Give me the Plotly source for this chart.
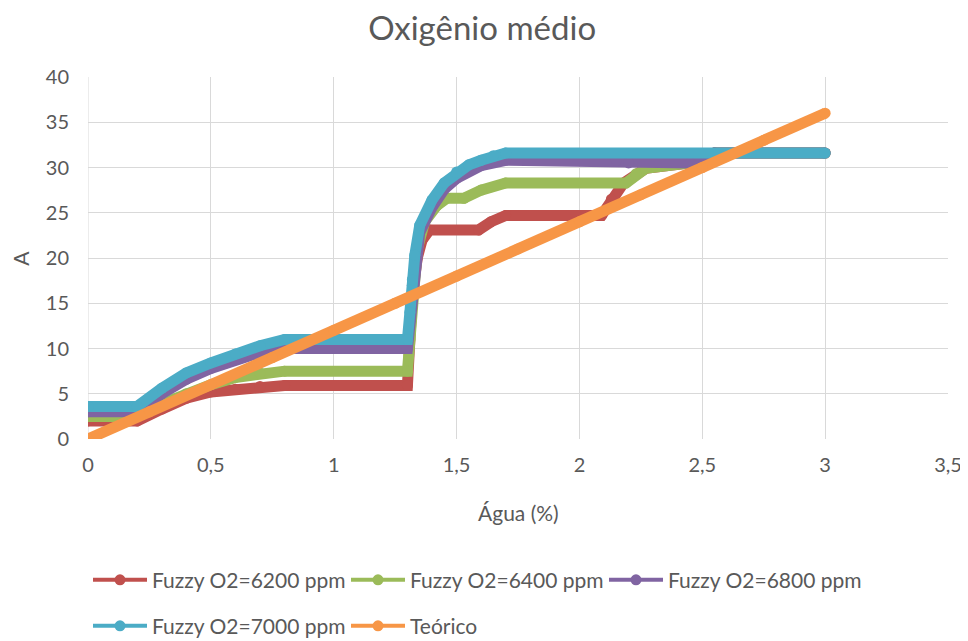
import plotly.graph_objects as go

# ---- data ----
x_6200 = [0, 0.2, 0.3, 0.4, 0.5, 0.6, 0.7, 0.8, 1.3, 1.31, 1.32, 1.34, 1.36, 1.39, 1.59, 1.64, 1.70, 2.09, 2.13, 2.18, 2.27, 2.45, 2.55, 3.0]
y_6200 = [2.0, 2.0, 3.3, 4.5, 5.2, 5.5, 5.8, 5.9, 5.9, 12, 16, 20, 22, 23.1, 23.1, 24, 24.7, 24.7, 26.5, 28.3, 29.9, 30.5, 31.6, 31.6]

x_6400 = [0, 0.2, 0.3, 0.4, 0.5, 0.6, 0.7, 0.8, 1.3, 1.31, 1.32, 1.34, 1.37, 1.42, 1.46, 1.53, 1.60, 1.70, 2.19, 2.23, 2.27, 2.45, 2.55, 3.0]
y_6400 = [2.5, 2.5, 3.9, 5.0, 6.0, 6.8, 7.3, 7.5, 7.5, 11, 16, 21, 24, 25.8, 26.6, 26.6, 27.5, 28.3, 28.3, 29.3, 29.9, 30.5, 31.6, 31.6]

x_6800 = [0, 0.2, 0.3, 0.4, 0.5, 0.6, 0.7, 0.75, 1.3, 1.31, 1.32, 1.33, 1.35, 1.4, 1.45, 1.5, 1.6, 1.7, 2.15, 2.2, 2.45, 2.55, 3.0]
y_6800 = [3.0, 3.0, 5.0, 6.6, 7.8, 8.8, 9.6, 10.0, 10.0, 13, 17, 19.5, 22.8, 25.6, 27.6, 28.8, 30.2, 30.8, 30.8, 30.5, 30.5, 31.6, 31.6]

x_7000 = [0, 0.2, 0.3, 0.4, 0.5, 0.6, 0.7, 0.8, 1.3, 1.31, 1.32, 1.33, 1.35, 1.4, 1.45, 1.5, 1.55, 1.6, 1.65, 1.7, 3.0]
y_7000 = [3.6, 3.6, 5.6, 7.3, 8.4, 9.4, 10.3, 11.0, 11.0, 14, 17.6, 20.3, 23.6, 26.4, 28.3, 29.5, 30.3, 30.8, 31.3, 31.6, 31.6]

x_teo = [0, 0.25, 0.5, 0.75, 1.0, 1.25, 1.5, 1.75, 2.0, 2.25, 2.5, 2.75, 3.0]
y_teo = [0, 3, 6, 9, 12, 15, 18, 21, 24, 27, 30, 33, 36]

names = ["Fuzzy O2=6200 ppm", "Fuzzy O2=6400 ppm", "Fuzzy O2=6800 ppm", "Fuzzy O2=7000 ppm", "Teórico"]
colors = ["#C0504D", "#9BBB59", "#8064A2", "#4BACC6", "#F79646"]
series = [(x_6200, y_6200), (x_6400, y_6400), (x_6800, y_6800), (x_7000, y_7000), (x_teo, y_teo)]
legend_ids = ["legend", "legend", "legend", "legend2", "legend2"]

FONT = "Lato"
GRAY = "#595959"
GRID = "#D9D9D9"

fig = go.Figure()
for (xs, ys), n, c in zip(series, names, colors):
    fig.add_trace(go.Scatter(x=xs, y=ys, mode="lines+markers", name=n,
                             line=dict(color=c, width=11),
                             marker=dict(color=c, size=11),
                             showlegend=False, hoverinfo="skip"))
# legend entries (thin like the original legend)
for n, c, lg in zip(names, colors, legend_ids):
    fig.add_trace(go.Scatter(x=[None], y=[None], mode="lines+markers", name=n,
                             line=dict(color=c, width=4),
                             marker=dict(color=c, size=11), legend=lg))

leg_common = dict(orientation="h", xanchor="left", x=0.0, yanchor="middle",
                  font=dict(family=FONT, size=21, color=GRAY),
                  entrywidth=189, entrywidthmode="pixels", itemwidth=54,
                  bgcolor="rgba(0,0,0,0)")

fig.update_layout(
    width=960, height=633,
    paper_bgcolor="white", plot_bgcolor="white",
    separators=",.",
    margin=dict(l=80, r=20, t=69, b=202, autoexpand=False),
    title=dict(text="Oxigênio médio", x=0.494, xanchor="center", y=0.967, yanchor="middle",
               font=dict(family=FONT, size=33, color=GRAY)),
    font=dict(family=FONT, color=GRAY, size=20),
    xaxis=dict(range=[0, 3.5], dtick=0.5, tick0=0, showgrid=True, gridcolor=GRID, gridwidth=1,
               zeroline=False, showline=False, ticks="", ticklabelstandoff=12,
               tickfont=dict(family=FONT, size=20, color=GRAY)),
    yaxis=dict(range=[0, 40], dtick=5, tick0=0, showgrid=True, gridcolor=GRID, gridwidth=1,
               zeroline=False, showline=False, ticks="", ticklabelstandoff=18,
               tickfont=dict(family=FONT, size=20, color=GRAY)),
    legend=dict(**leg_common, y=-0.39),
    legend2=dict(**leg_common, y=-0.517),
    showlegend=True,
)
fig.add_annotation(text="Água (%)", xref="paper", yref="paper", x=0.5, y=-0.204,
                   xanchor="center", yanchor="middle", showarrow=False,
                   font=dict(family=FONT, size=21, color=GRAY))
fig.add_annotation(text="A", xref="paper", yref="paper", x=-0.0795, y=0.5, textangle=-90,
                   xanchor="center", yanchor="middle", showarrow=False,
                   font=dict(family=FONT, size=21, color=GRAY))
fig.add_shape(type="line", xref="x", yref="paper", x0=0, x1=0, y0=0, y1=1,
              line=dict(color=GRID, width=1), layer="below")

fig.write_html("out.html")
